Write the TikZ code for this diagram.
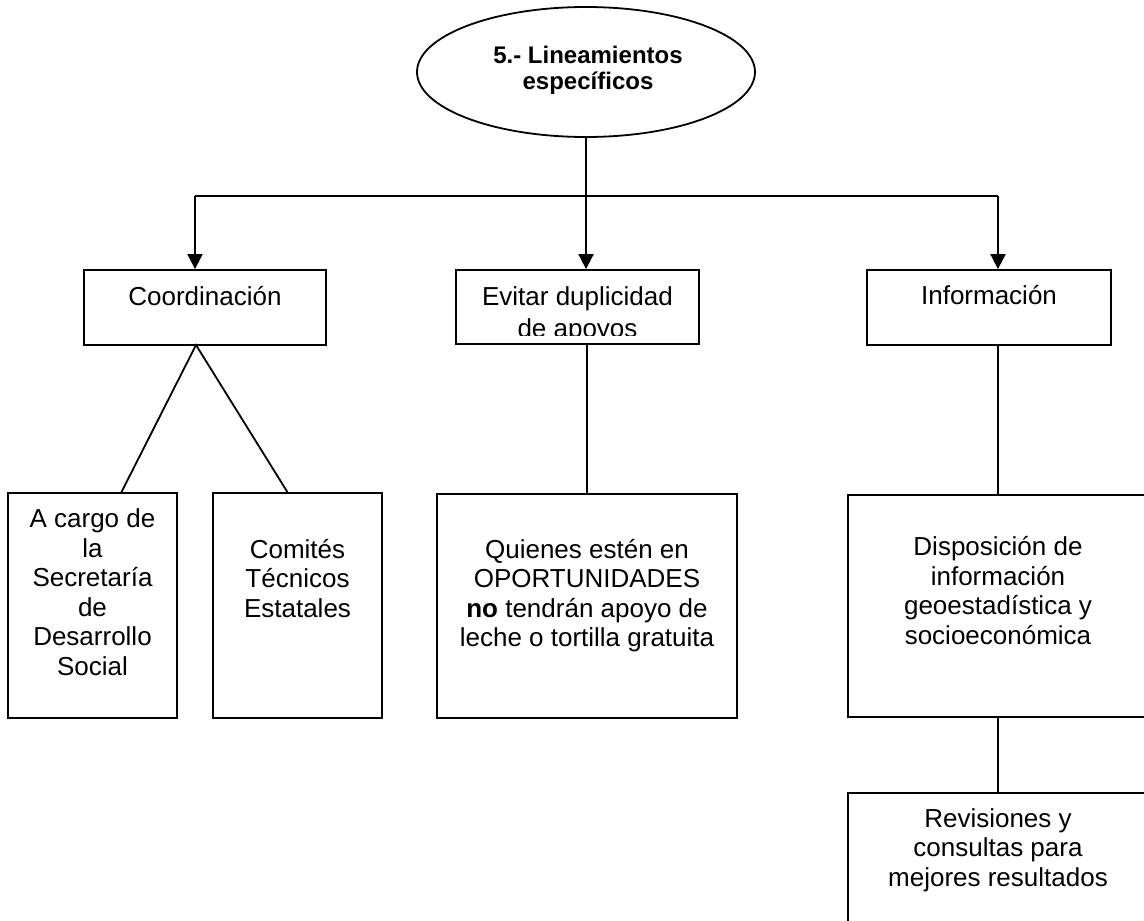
\documentclass[tikz,border=0pt]{standalone}
\usepackage{fontspec}
\setmainfont{Liberation Sans}
\usetikzlibrary{arrows.meta}
\tikzset{
  ln/.style={line width=1.8pt, line cap=butt},
  arr/.style={ln, -{Triangle[width=15pt,length=15pt]}},
  box/.style={draw, line width=1.8pt, inner sep=0pt, rectangle},
  txt/.style={anchor=base, align=center, inner sep=0pt, font=\fontsize{26}{29.5}\selectfont},
  ttl/.style={anchor=base, align=center, inner sep=0pt, font=\fontsize{24}{26.5}\selectfont\bfseries},
}
\begin{document}
\begin{tikzpicture}[x=1pt, y=-1pt]
\useasboundingbox (0,0) rectangle (1144,921);

% title ellipse (base anchor = baseline of the last line)
\draw[ln] (586,72) ellipse [x radius=169, y radius=65];
\coordinate (ellS) at (586,137);
\node[ttl] (title) at (588,89.5) {5.- Lineamientos\\específicos};

% first level boxes
\node[box, minimum width=242pt, minimum height=75pt] (coord) at (205,307.5) {};
\node[box, minimum width=243pt, minimum height=74pt] (evitar) at (577.5,307) {};
\node[box, minimum width=244pt, minimum height=75pt] (info) at (989,307.5) {};

\node[txt] (coordT) at (205,305) {Coordinación};
\begin{scope}
  \clip (456,270) rectangle (699,335.5);
  \node[txt, font=\fontsize{26}{32}\selectfont] (evitarT) at (577.5,337) {Evitar duplicidad\\de apoyos};
\end{scope}
\node[txt] (infoT) at (989,304) {Información};

% second level boxes
\node[box, minimum width=169pt, minimum height=225pt] (acargo) at (92.5,605.5) {};
\node[box, minimum width=169pt, minimum height=225pt] (comites) at (297.5,605.5) {};
\node[box, minimum width=300pt, minimum height=224pt] (quienes) at (587,606) {};
\node[box, minimum width=300pt, minimum height=222pt] (dispo) at (998,606) {};
\node[box, minimum width=300pt, minimum height=214pt] (revis) at (998,900) {};

\node[txt] (acargoT) at (92.5,675) {A cargo de\\la\\Secretaría\\de\\Desarrollo\\Social};
\node[txt] (comitesT) at (297.5,617) {Comités\\Técnicos\\Estatales};
\node[txt] (quienesT) at (587,646.5) {Quienes estén en\\OPORTUNIDADES\\\textbf{no} tendrán apoyo de\\leche o tortilla gratuita};
\node[txt] (dispoT) at (998,644) {Disposición de\\información\\geoestadística y\\socioeconómica};
\node[txt] (revisT) at (998,886) {Revisiones y\\consultas para\\mejores resultados};

% connectors
\coordinate (hl) at (195,196);
\coordinate (hr) at (998,196);
\draw[arr] (ellS) -- (ellS |- evitar.north);
\draw[ln] (hl) -- (hr);
\draw[arr] (hl) -- (hl |- coord.north);
\draw[arr] (hr) -- (hr |- info.north);

\coordinate (apex) at (196,345);
\coordinate (ca) at (121,493);
\coordinate (cc) at (288,493);
\draw[ln] (ca) -- (apex) -- (cc);

\draw[ln] (quienes.north |- evitar.south) -- (quienes.north);
\draw[ln] (dispo.north |- info.south) -- (dispo.north);
\draw[ln] (dispo.south) -- (revis.north);
\end{tikzpicture}
\end{document}
